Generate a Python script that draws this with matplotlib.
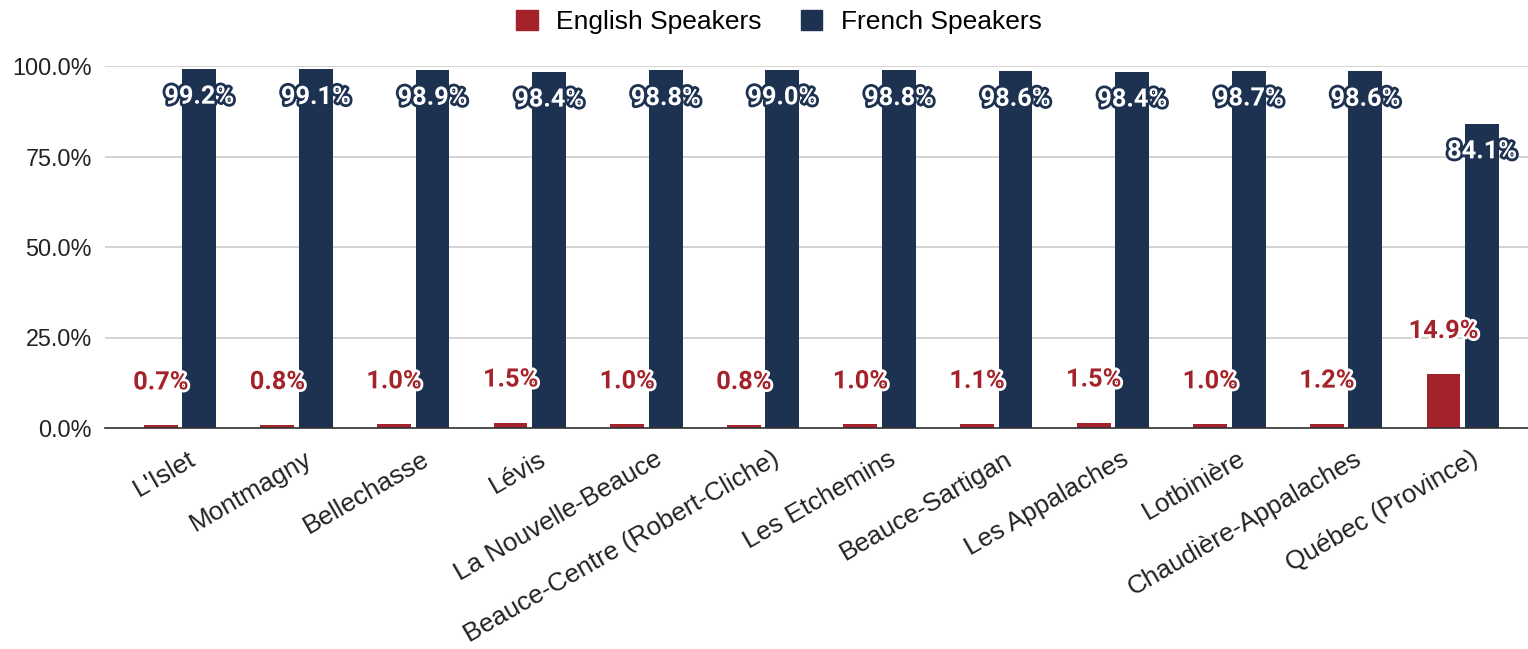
import numpy as np
import matplotlib.pyplot as plt
import matplotlib.patheffects as pe
from matplotlib.patches import Patch
from matplotlib.transforms import ScaledTranslation

plt.rcParams["font.family"] = ["Liberation Sans", "DejaVu Sans"]

# share of speakers by region (percent)
regions = ["L'Islet", "Montmagny", "Bellechasse", "Lévis", "La Nouvelle-Beauce",
           "Beauce-Centre (Robert-Cliche)", "Les Etchemins", "Beauce-Sartigan",
           "Les Appalaches", "Lotbinière", "Chaudière-Appalaches", "Québec (Province)"]
english = [0.7, 0.8, 1.0, 1.5, 1.0, 0.8, 1.0, 1.1, 1.5, 1.0, 1.2, 14.9]
french = [99.2, 99.1, 98.9, 98.4, 98.8, 99.0, 98.8, 98.6, 98.4, 98.7, 98.6, 84.1]
y_ticks = [0, 25, 50, 75, 100]

red = "#A4232A"
navy = "#1D3150"

fig = plt.figure(figsize=(15.28, 6.49), dpi=100)
ax = fig.add_axes([105 / 1528, (649 - 428) / 649, 1 - 105 / 1528, (428 - 66) / 649])

x = np.arange(len(regions))
w = 0.29
off = 0.165
ax.bar(x - off, english, w, color=red, zorder=3)
ax.bar(x + off, french, w, color=navy, zorder=3)

# bar labels with outline
for xi, v in zip(x - off, english):
    ax.annotate("%.1f%%" % v, (xi, v), xytext=(0, 31), textcoords="offset points",
                ha="center", va="center", fontsize=18.3, fontweight="bold",
                family="Roboto", color=red, zorder=5,
                path_effects=[pe.withStroke(linewidth=4, foreground="white")])
for xi, v in zip(x + off, french):
    ax.annotate("%.1f%%" % v, (xi, v), xytext=(0, -20), textcoords="offset points",
                ha="center", va="center", fontsize=18.3, fontweight="bold",
                family="Roboto", color="white", zorder=5, annotation_clip=False,
                path_effects=[pe.withStroke(linewidth=4, foreground=navy)])

ax.set_xlim(-0.643, 11.56)
ax.set_ylim(0, 100)
ax.set_yticks(y_ticks)
ax.set_yticklabels(["%.1f%%" % t for t in y_ticks], fontsize=16.8, color="#222222")
ax.set_xticks(x)
ax.set_xticklabels(regions, rotation=30, ha="right", va="top",
                   rotation_mode="anchor", fontsize=18.8, color="#222222")
ax.tick_params(length=0)
ax.tick_params(axis="y", pad=9.4)
ax.tick_params(axis="x", pad=13.5)
shift = ScaledTranslation(8 / 100, 0, fig.dpi_scale_trans)
for lab in ax.get_xticklabels():
    lab.set_transform(lab.get_transform() + shift)
ax.grid(axis="y", color="#CCCCCC", linewidth=1.2, zorder=0)
for s in ["top", "right", "left"]:
    ax.spines[s].set_visible(False)
ax.spines["bottom"].set_color("#333333")
ax.spines["bottom"].set_linewidth(1.2)
ax.spines["bottom"].set_zorder(4)

handles = [Patch(color=red, label="English Speakers"),
           Patch(color=navy, label="French Speakers")]
fig.legend(handles=handles, loc="center", bbox_to_anchor=(779 / 1528, 1 - 22 / 649),
           ncol=2, frameon=False, fontsize=19, handlelength=0.8, handleheight=0.8,
           columnspacing=1.5, handletextpad=0.7)

fig.savefig("out.png", dpi=100)
